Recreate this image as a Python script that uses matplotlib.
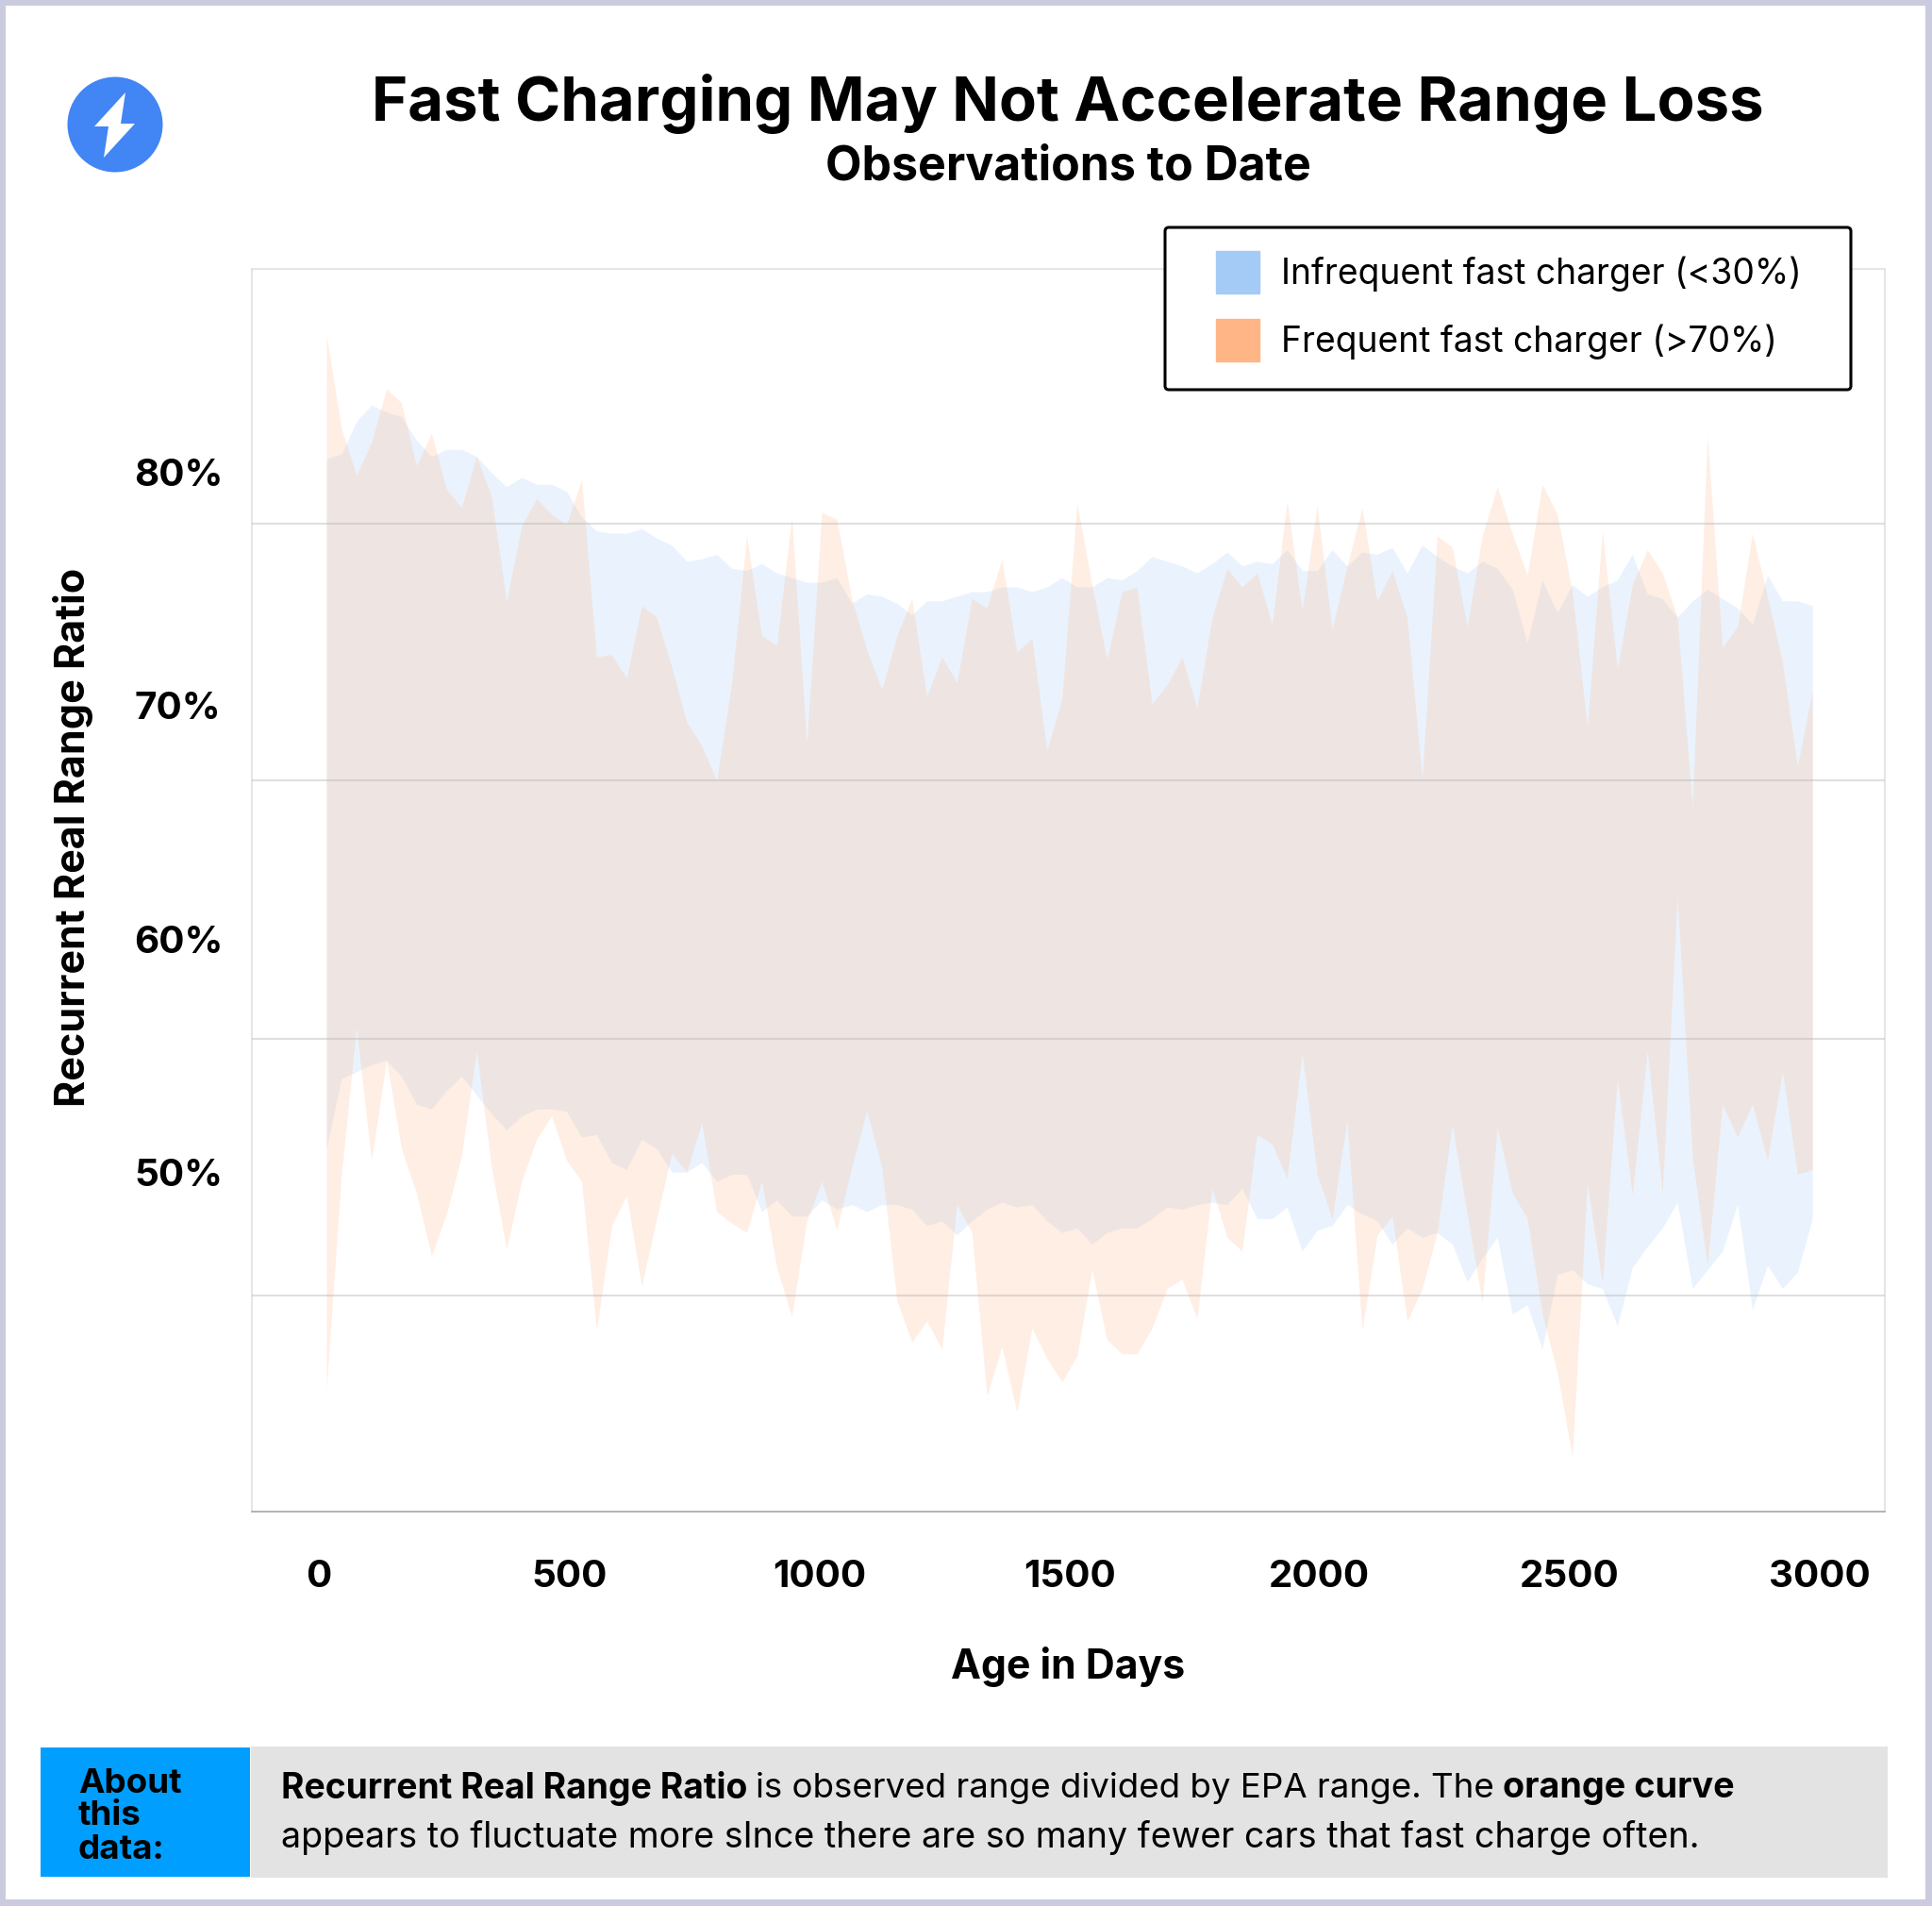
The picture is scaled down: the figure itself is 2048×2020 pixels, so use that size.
import matplotlib
matplotlib.use("Agg")
from matplotlib import pyplot as plt
from matplotlib.patches import Circle, FancyBboxPatch, Patch, Polygon, Rectangle

W, H = 2048, 2020
FONT = "Inter"

# age buckets, one every 30 days
days = list(range(15, 3000, 30))

blue_upper = [80.6, 80.8, 82.2, 82.9, 82.6, 82.4, 81.4, 80.7, 81.0, 81.0,
              80.7, 80.0, 79.4, 79.8, 79.5, 79.5, 79.2, 78.1, 77.5, 77.4,
              77.4, 77.6, 77.2, 76.9, 76.2, 76.3, 76.5, 75.9, 75.8, 76.1,
              75.7, 75.5, 75.3, 75.3, 75.5, 74.4, 74.8, 74.7, 74.4, 73.9,
              74.5, 74.5, 74.7, 74.9, 74.9, 75.1, 75.1, 74.9, 75.1, 75.5,
              75.1, 75.1, 75.5, 75.4, 75.8, 76.4, 76.2, 76.0, 75.7, 76.1,
              76.6, 76.0, 76.2, 76.1, 76.7, 75.8, 75.8, 76.7, 76.0, 76.6,
              76.5, 76.8, 75.7, 76.9, 76.4, 76.0, 75.7, 76.2, 75.9, 75.0,
              72.7, 75.4, 74.0, 75.2, 74.7, 75.1, 75.4, 76.5, 74.8, 74.6,
              73.8, 74.5, 75.0, 74.6, 74.2, 73.5, 75.6, 74.5, 74.5, 74.3]

blue_lower = [51.0, 54.0, 54.3, 54.6, 54.8, 54.1, 52.9, 52.7, 53.5, 54.1,
              53.3, 52.5, 51.8, 52.4, 52.7, 52.7, 52.6, 51.5, 51.6, 50.4,
              50.1, 51.4, 51.0, 50.0, 50.0, 50.4, 49.6, 49.9, 49.9, 48.3,
              48.8, 48.1, 48.1, 48.8, 48.4, 48.6, 48.3, 48.6, 48.6, 48.4,
              47.7, 47.9, 47.3, 47.9, 48.4, 48.7, 48.5, 48.6, 47.9, 47.4,
              47.6, 46.9, 47.4, 47.6, 47.6, 48.0, 48.5, 48.4, 48.6, 48.7,
              48.6, 49.3, 48.0, 48.0, 48.5, 46.6, 47.5, 47.7, 48.6, 48.2,
              47.9, 46.9, 47.6, 47.2, 47.4, 46.9, 45.3, 46.3, 47.2, 43.9,
              44.3, 42.4, 45.6, 45.8, 45.2, 45.0, 43.4, 45.9, 46.8, 47.6,
              48.7, 45.0, 45.8, 46.6, 48.6, 44.1, 46.0, 45.0, 45.7, 48.0]

orange_upper = [85.9, 81.9, 79.9, 81.3, 83.6, 83.0, 80.3, 81.7, 79.3, 78.5,
                80.7, 79.0, 74.5, 77.7, 78.9, 78.2, 77.8, 79.7, 72.1, 72.2,
                71.2, 74.3, 73.8, 71.7, 69.3, 68.3, 66.8, 71.0, 77.3, 73.0,
                72.6, 78.1, 68.4, 78.3, 78.0, 74.6, 72.4, 70.7, 73.0, 74.6,
                70.4, 72.1, 71.0, 74.6, 74.2, 76.3, 72.3, 72.9, 68.1, 70.3,
                78.7, 75.2, 72.0, 74.9, 75.1, 70.1, 70.9, 72.1, 69.9, 73.8,
                75.9, 75.1, 75.7, 73.5, 78.8, 74.1, 78.6, 73.3, 76.0, 78.5,
                74.5, 75.8, 73.8, 66.9, 77.3, 76.8, 73.4, 77.3, 79.4, 77.4,
                75.6, 79.5, 78.2, 74.9, 69.1, 77.5, 71.6, 75.2, 76.7, 75.7,
                73.8, 65.7, 81.6, 72.5, 73.4, 77.4, 74.7, 71.9, 67.4, 70.7]

orange_lower = [40.7, 49.9, 56.2, 50.5, 54.8, 51.0, 49.1, 46.4, 48.2, 50.7,
                55.2, 50.2, 46.7, 49.6, 51.4, 52.4, 50.5, 49.6, 43.2, 47.7,
                49.0, 45.1, 48.0, 50.8, 50.0, 52.1, 48.3, 47.8, 47.4, 49.6,
                45.9, 43.8, 47.9, 49.6, 47.5, 50.2, 52.6, 50.2, 44.5, 42.7,
                43.6, 42.4, 48.6, 47.4, 40.4, 42.5, 39.7, 43.3, 42.0, 41.0,
                42.1, 45.8, 42.8, 42.2, 42.2, 43.3, 45.0, 45.4, 43.7, 49.3,
                47.2, 46.6, 51.6, 51.2, 49.7, 55.1, 49.9, 48.0, 52.2, 43.2,
                47.3, 48.1, 43.6, 45.0, 47.4, 52.0, 48.2, 44.4, 51.9, 49.1,
                48.0, 43.9, 41.4, 37.8, 49.5, 45.2, 54.0, 49.0, 55.2, 49.1,
                61.8, 50.6, 46.0, 52.9, 51.5, 52.9, 50.5, 54.3, 49.9, 50.1]

y_ticks = [80, 70, 60, 50]
y_tick_labels = ["80%", "70%", "60%", "50%"]
x_ticks = [0, 500, 1000, 1500, 2000, 2500, 3000]
grid_levels = [77.8, 66.8, 55.7, 44.7]

BLUE = "#A3CBF6"
ORANGE = "#FFB585"


def fx(p):
    return p / W


def fy(p):
    return 1 - p / H


fig = plt.figure(figsize=(W / 100, H / 100), dpi=100, facecolor="#CBCBDF")
fig.add_artist(Rectangle((fx(6), fy(2013)), fx(2041 - 6), 2007 / H, transform=fig.transFigure,
                         facecolor="white", edgecolor="none", zorder=-5))

ax = fig.add_axes([fx(267), fy(1602), fx(1998 - 267), (1602 - 285) / H])
ax.set_xlim(-133.9, 3129.7)
ax.set_ylim(35.43, 88.74)
ax.fill_between(days, blue_lower, blue_upper, color=BLUE, alpha=0.22, linewidth=0, zorder=2)
ax.fill_between(days, orange_lower, orange_upper, color=ORANGE, alpha=0.22, linewidth=0, zorder=3)
ax.hlines(grid_levels, -133.9, 3129.7, color="#B4B4B4", alpha=0.42, linewidth=1.5, zorder=4)

for side in ["left", "right", "top"]:
    ax.spines[side].set_color("#E0E0E0")
    ax.spines[side].set_linewidth(1.2)
ax.spines["bottom"].set_color("#A6A6A6")
ax.spines["bottom"].set_linewidth(1.2)

ax.set_xticks(x_ticks)
ax.set_yticks(y_ticks)
ax.set_yticklabels(y_tick_labels, ha="left")
ax.tick_params(length=0)
ax.tick_params(axis="x", pad=37)
ax.tick_params(axis="y", pad=90)
for lab in ax.get_xticklabels() + ax.get_yticklabels():
    lab.set_fontfamily(FONT)
    lab.set_fontweight("bold")
    lab.set_fontsize(29)

ax.set_xlabel("Age in Days", family=FONT, weight="bold", fontsize=30.8)
ax.xaxis.set_label_coords((1132 - 267) / 1731, -(1767 - 1602) / 1317)
ax.xaxis.label.set_va("center")
ax.set_ylabel("Recurrent Real Range Ratio", family=FONT, weight="bold", fontsize=31)
ax.yaxis.set_label_coords((78 - 267) / 1731, (1602 - 887) / 1317)
ax.yaxis.label.set_va("center")

fig.text(fx(1132), fy(110), "Fast Charging May Not Accelerate Range Loss", family=FONT,
         weight="bold", fontsize=47, ha="center", va="center")
fig.text(fx(1132), fy(177), "Observations to Date", family=FONT,
         weight="bold", fontsize=36, ha="center", va="center")

# lightning icon
fig.add_artist(Circle((122, H - 132), 50.5, transform=None, facecolor="#4285F4", edgecolor="none"))
bolt = [(133, 98), (100, 134), (115, 134), (110, 167), (143, 131), (128, 131)]
fig.add_artist(Polygon([(x, H - y) for x, y in bolt], transform=None, facecolor="white", edgecolor="none"))

# legend box
fig.add_artist(FancyBboxPatch((fx(1235), fy(413)), fx(1962 - 1235), (413 - 241) / H,
                              boxstyle="round,pad=0,rounding_size=0.002", transform=fig.transFigure,
                              facecolor="white", edgecolor="black", linewidth=2.2, zorder=5))
fig.legend(handles=[Patch(color=BLUE, label="Infrequent fast charger (<30%)"),
                    Patch(color=ORANGE, label="Frequent fast charger (>70%)")],
           loc="upper left", bbox_to_anchor=(fx(1289), fy(266)), borderpad=0, borderaxespad=0,
           frameon=False, handlelength=1.24, handleheight=1.485, handletextpad=0.62, labelspacing=0.73,
           prop={"family": FONT, "size": 26.8}).set_zorder(6)

# about this data footer
fig.add_artist(Rectangle((fx(266), fy(1990)), fx(2001 - 266), 139 / H, transform=fig.transFigure,
                         facecolor="#E3E3E3", edgecolor="none"))
fig.add_artist(Rectangle((fx(43), fy(1989)), fx(265 - 43), 137 / H, transform=fig.transFigure,
                         facecolor="#009FFF", edgecolor="none"))
for line, py in zip(["About", "this", "data:"], [1890, 1925, 1960]):
    fig.text(fx(83), fy(py), line, family=FONT, weight="bold", fontsize=26.5, va="center")


def run_of_text(x, py, parts):
    # bold and regular runs on one line, placed one after the other
    renderer = fig.canvas.get_renderer()
    for s, weight, size in parts:
        t = fig.text(fx(x), fy(py), s, family=FONT, weight=weight, fontsize=size, va="center")
        x += t.get_window_extent(renderer).width + 9


run_of_text(298, 1895, [("Recurrent Real Range Ratio", "bold", 26.8),
                        ("is observed range divided by EPA range. The", "normal", 26.4),
                        ("orange curve", "bold", 27.2)])
run_of_text(298, 1948, [("appears to fluctuate more sInce there are so many fewer cars that fast charge often.", "normal", 27.1)])

fig.savefig("out.png", dpi=100, facecolor=fig.get_facecolor())
